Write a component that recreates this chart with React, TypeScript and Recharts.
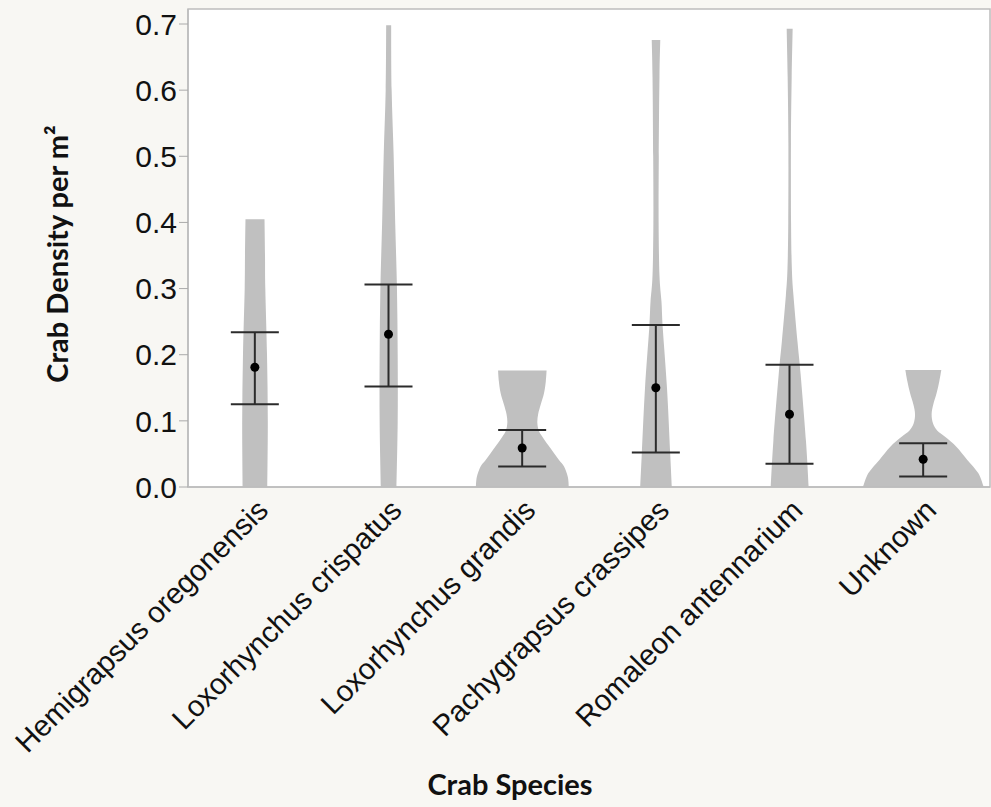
import React from "react";
import { ComposedChart, Bar, Line, XAxis, YAxis, CartesianGrid, ErrorBar, ReferenceArea, Label } from "recharts";

const species = [
  "Hemigrapsus oregonensis",
  "Loxorhynchus crispatus",
  "Loxorhynchus grandis",
  "Pachygrapsus crassipes",
  "Romaleon antennarium",
  "Unknown",
];
const means = [0.181, 0.231, 0.059, 0.15, 0.11, 0.042];
const upperCI = [0.234, 0.306, 0.086, 0.245, 0.185, 0.066];
const lowerCI = [0.125, 0.152, 0.031, 0.052, 0.035, 0.016];
const maxDensity = [0.405, 0.698, 0.176, 0.676, 0.693, 0.177];
const yTicks = [0, 0.1, 0.2, 0.3, 0.4, 0.5, 0.6, 0.7];

// violin outlines: [crab density, relative width]
const hemigrapsusViolin = [[0, 0.202], [0.1, 0.21], [0.2, 0.197], [0.3, 0.169], [0.35, 0.164], [0.405, 0.156]];
const crispatusViolin = [[0, 0.128], [0.1, 0.148], [0.2, 0.148], [0.3, 0.136], [0.4, 0.107], [0.5, 0.082], [0.6, 0.049], [0.698, 0.041]];
const grandisViolin = [
  [0, 0.762], [0.015, 0.746], [0.031, 0.684], [0.04, 0.607], [0.051, 0.52], [0.063, 0.426], [0.076, 0.328],
  [0.085, 0.27], [0.097, 0.246], [0.11, 0.259], [0.125, 0.303], [0.142, 0.356], [0.16, 0.385], [0.176, 0.398],
];
const pachygrapsusViolin = [
  [0, 0.259], [0.05, 0.233], [0.15, 0.18], [0.24, 0.111], [0.28, 0.09], [0.32, 0.057], [0.4, 0.043],
  [0.5, 0.046], [0.62, 0.057], [0.676, 0.07],
];
const romaleonViolin = [
  [0, 0.311], [0.07, 0.267], [0.17, 0.18], [0.22, 0.128], [0.29, 0.062], [0.33, 0.036], [0.4, 0.023],
  [0.52, 0.021], [0.62, 0.033], [0.693, 0.049],
];
const unknownViolin = [
  [0, 0.99], [0.021, 0.9], [0.041, 0.721], [0.061, 0.541], [0.076, 0.356], [0.085, 0.23], [0.096, 0.159],
  [0.11, 0.136], [0.125, 0.164], [0.142, 0.218], [0.16, 0.262], [0.177, 0.295],
];
const violins = [hemigrapsusViolin, crispatusViolin, grandisViolin, pachygrapsusViolin, romaleonViolin, unknownViolin];

const data = species.map((name, i) => ({
  name,
  top: maxDensity[i],
  violin: violins[i],
  mean: means[i],
  err: [means[i] - lowerCI[i], upperCI[i] - means[i]],
}));

const HALF_WIDTH = 61;
const AXIS_FONT = "'Liberation Sans', Arial, sans-serif";
const TITLE_FONT = "Lato, 'Open Sans', sans-serif";

// catmull-rom through the points, as cubic segments
function curveThrough(pts: number[][]) {
  let d = "";
  for (let i = 0; i < pts.length - 1; i++) {
    const p0 = pts[i - 1] || pts[i];
    const p1 = pts[i];
    const p2 = pts[i + 1];
    const p3 = pts[i + 2] || p2;
    const c1x = p1[0] + (p2[0] - p0[0]) / 6;
    const c1y = p1[1] + (p2[1] - p0[1]) / 6;
    const c2x = p2[0] - (p3[0] - p1[0]) / 6;
    const c2y = p2[1] - (p3[1] - p1[1]) / 6;
    d += ` C${c1x},${c1y} ${c2x},${c2y} ${p2[0]},${p2[1]}`;
  }
  return d;
}

const ViolinShape = (props: any) => {
  const { x, y, width, height, payload } = props;
  if (!payload || !height) return null;
  const cx = x + width / 2;
  const toY = (v: number) => y + height * (1 - v / payload.top);
  const left = payload.violin.map(([v, w]: number[]) => [cx - w * HALF_WIDTH, toY(v)]);
  const right = payload.violin
    .slice()
    .reverse()
    .map(([v, w]: number[]) => [cx + w * HALF_WIDTH, toY(v)]);
  const d =
    `M${left[0][0]},${left[0][1]}` +
    curveThrough(left) +
    ` L${right[0][0]},${right[0][1]}` +
    curveThrough(right) +
    " Z";
  return <path d={d} fill="#c0c0c0" stroke="none" />;
};

const SpeciesTick = (props: any) => {
  const { x, y, payload } = props;
  const tx = x + 15;
  const ty = y + 25;
  return (
    <text
      x={tx}
      y={ty}
      transform={`rotate(-45, ${tx}, ${ty})`}
      textAnchor="end"
      fontFamily={AXIS_FONT}
      fontSize={29.5}
      fill="#111"
    >
      {payload.value}
    </text>
  );
};

const YTitle = (props: any) => {
  const { viewBox } = props;
  const tx = 68;
  const ty = viewBox.y + viewBox.height / 2 + 6;
  return (
    <text
      x={tx}
      y={ty}
      transform={`rotate(-90, ${tx}, ${ty})`}
      textAnchor="middle"
      fontFamily={TITLE_FONT}
      fontWeight={700}
      fontSize={29}
      fill="#111"
    >
      Crab Density per m²
    </text>
  );
};

const XTitle = (props: any) => {
  const { viewBox } = props;
  return (
    <text
      x={viewBox.x + 322}
      y={viewBox.y + 308}
      textAnchor="middle"
      fontFamily={TITLE_FONT}
      fontWeight={700}
      fontSize={29}
      fill="#111"
    >
      Crab Species
    </text>
  );
};

export default function App() {
  return (
    <div style={{ position: "absolute", left: 0, top: 0, width: 991, height: 807, background: "#f8f7f3" }}>
      <ComposedChart width={991} height={807} data={data} margin={{ top: 9, right: 1, bottom: 0, left: 0 }}>
        <CartesianGrid horizontal={false} vertical={false} fill="#ffffff" />
        <XAxis
          dataKey="name"
          type="category"
          height={320}
          tickLine={false}
          tickSize={0}
          tickMargin={0}
          interval={0}
          axisLine={{ stroke: "#bdbdbd", strokeWidth: 1.5 }}
          tick={<SpeciesTick />}
        >
          <Label content={<XTitle />} />
        </XAxis>
        <YAxis
          type="number"
          width={188}
          domain={[0, 0.7227]}
          ticks={yTicks}
          allowDataOverflow
          tickFormatter={(v: number) => v.toFixed(1)}
          tickSize={9}
          tickMargin={2}
          tickLine={{ stroke: "#aaaaaa" }}
          axisLine={{ stroke: "#bdbdbd", strokeWidth: 1.5 }}
          tick={{ fontFamily: AXIS_FONT, fontSize: 30, fill: "#111" }}
        >
          <Label content={<YTitle />} />
        </YAxis>
        <Bar dataKey="top" barSize={20} shape={<ViolinShape />} isAnimationActive={false} />
        <Line
          dataKey="mean"
          stroke="none"
          dot={{ r: 4.5, fill: "#000", stroke: "none" }}
          activeDot={false}
          isAnimationActive={false}
        >
          <ErrorBar dataKey="err" direction="y" width={24} stroke="#2b2b2b" strokeWidth={2} />
        </Line>
        <ReferenceArea y1={0} y2={0.7227} fill="none" stroke="#bdbdbd" strokeWidth={1.5} ifOverflow="visible" />
      </ComposedChart>
    </div>
  );
}
